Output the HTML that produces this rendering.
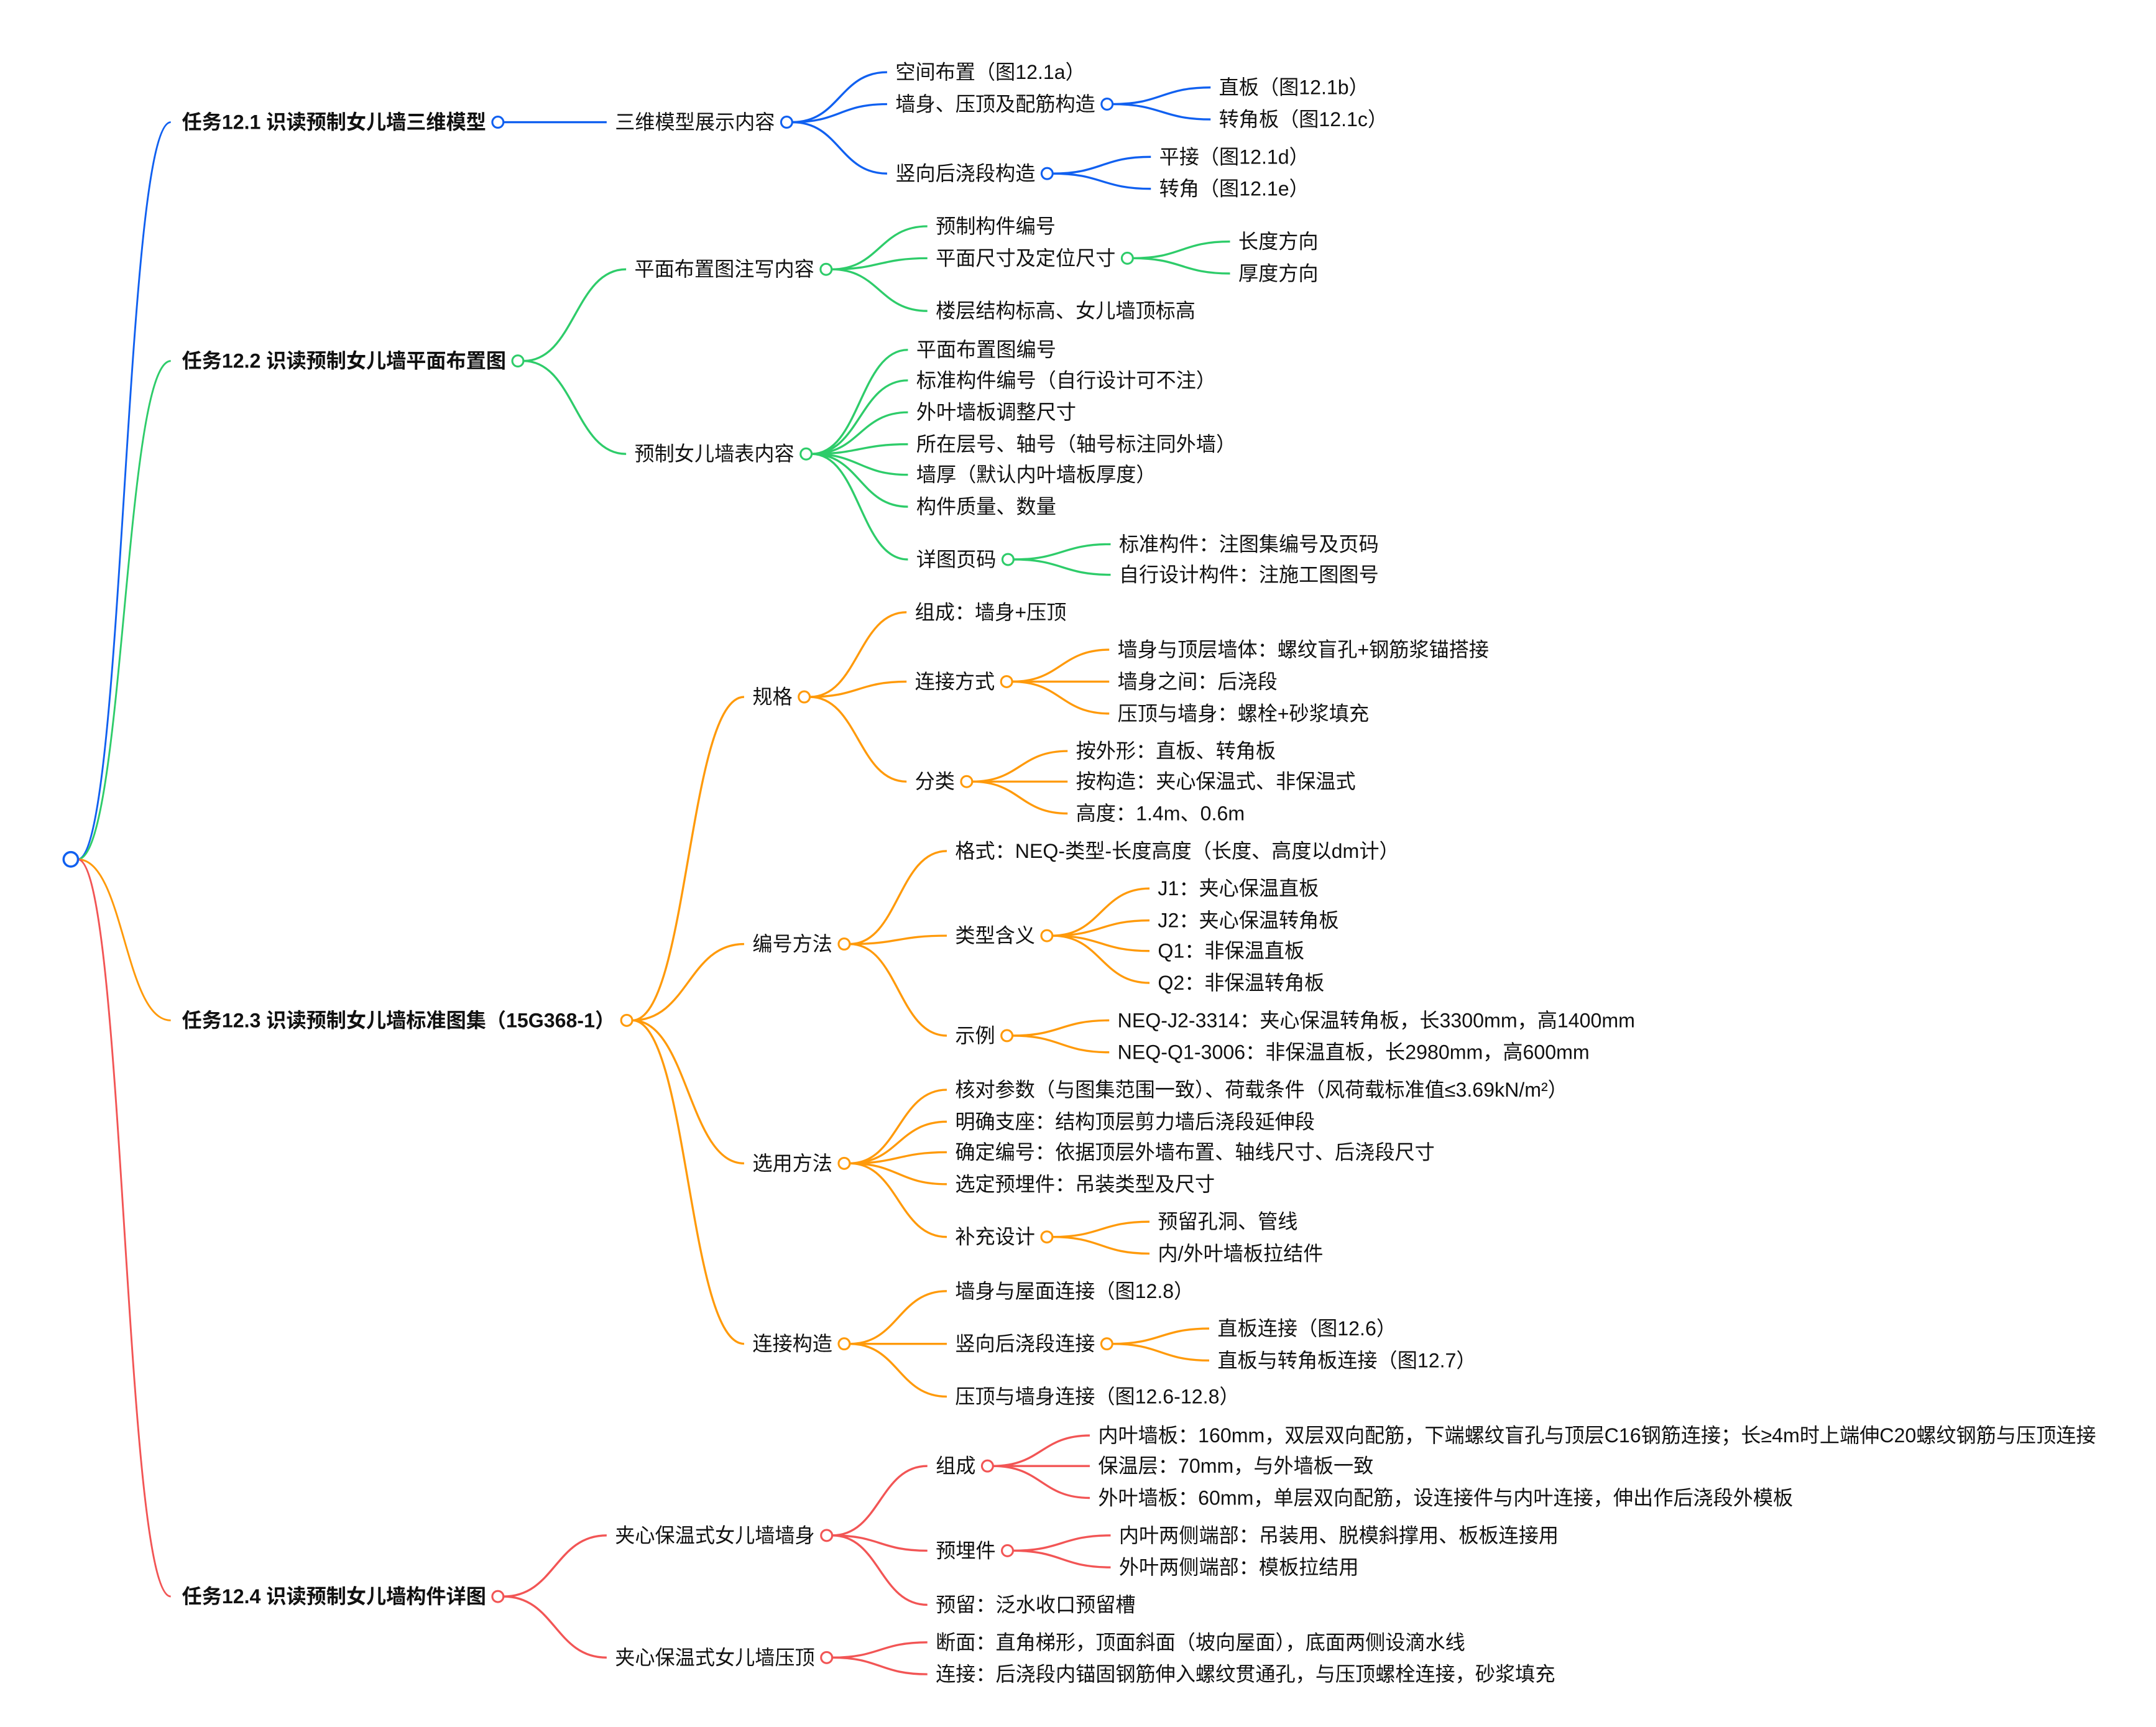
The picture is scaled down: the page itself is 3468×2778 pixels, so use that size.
<!DOCTYPE html>
<html><head><meta charset="utf-8">
<style>
html,body{margin:0;padding:0;background:#fff;}
svg{display:block;}
text{font-family:"Liberation Sans","Noto Sans CJK SC",sans-serif;font-size:14.4px;fill:#111;dominant-baseline:central;}
.b{font-weight:bold;}
</style></head>
<body>
<svg id="s" xmlns="http://www.w3.org/2000/svg" width="3468" height="2778" viewBox="0 0 1553 1244">
<g id="e" fill="none"></g><g id="t"></g><g id="c"></g>
</svg>
<script>
var B="#1060f0",G="#2ecc6a",O="#ff9a0a",R="#f25555";
function N(t,x,y,k){return {t:t,x:x,y:y,k:k||[]};}
var tree=[
[B,N("任务12.1 识读预制女儿墙三维模型",131,88,[
 N("三维模型展示内容",443,88,[
  N("空间布置（图12.1a）",645,52),
  N("墙身、压顶及配筋构造",645,75,[N("直板（图12.1b）",878,63),N("转角板（图12.1c）",878,86)]),
  N("竖向后浇段构造",645,125,[N("平接（图12.1d）",835,113),N("转角（图12.1e）",835,136)])
 ])])],
[G,N("任务12.2 识读预制女儿墙平面布置图",131,260,[
 N("平面布置图注写内容",457,194,[
  N("预制构件编号",674,163),
  N("平面尺寸及定位尺寸",674,186,[N("长度方向",892,174),N("厚度方向",892,197)]),
  N("楼层结构标高、女儿墙顶标高",674,224)]),
 N("预制女儿墙表内容",457,327,[
  N("平面布置图编号",660,252),
  N("标准构件编号（自行设计可不注）",660,274),
  N("外叶墙板调整尺寸",660,297),
  N("所在层号、轴号（轴号标注同外墙）",660,320),
  N("墙厚（默认内叶墙板厚度）",660,342),
  N("构件质量、数量",660,365),
  N("详图页码",660,403,[N("标准构件：注图集编号及页码",806,392),N("自行设计构件：注施工图图号",806,414)])])
 ])],
[O,N("任务12.3 识读预制女儿墙标准图集（15G368-1）",131,735,[
 N("规格",542,502,[
  N("组成：墙身+压顶",659,441),
  N("连接方式",659,491,[N("墙身与顶层墙体：螺纹盲孔+钢筋浆锚搭接",805,468),N("墙身之间：后浇段",805,491),N("压顶与墙身：螺栓+砂浆填充",805,514)]),
  N("分类",659,563,[N("按外形：直板、转角板",775,541),N("按构造：夹心保温式、非保温式",775,563),N("高度：1.4m、0.6m",775,586)])]),
 N("编号方法",542,680,[
  N("格式：NEQ-类型-长度高度（长度、高度以dm计）",688,613),
  N("类型含义",688,674,[N("J1：夹心保温直板",834,640),N("J2：夹心保温转角板",834,663),N("Q1：非保温直板",834,685),N("Q2：非保温转角板",834,708)]),
  N("示例",688,746,[N("NEQ-J2-3314：夹心保温转角板，长3300mm，高1400mm",805,735),N("NEQ-Q1-3006：非保温直板，长2980mm，高600mm",805,758)])]),
 N("选用方法",542,838,[
  N("核对参数（与图集范围一致）、荷载条件（风荷载标准值≤3.69kN/m²）",688,785),
  N("明确支座：结构顶层剪力墙后浇段延伸段",688,808),
  N("确定编号：依据顶层外墙布置、轴线尺寸、后浇段尺寸",688,830),
  N("选定预埋件：吊装类型及尺寸",688,853),
  N("补充设计",688,891,[N("预留孔洞、管线",834,880),N("内/外叶墙板拉结件",834,903)])]),
 N("连接构造",542,968,[
  N("墙身与屋面连接（图12.8）",688,930),
  N("竖向后浇段连接",688,968,[N("直板连接（图12.6）",877,957),N("直板与转角板连接（图12.7）",877,980)]),
  N("压顶与墙身连接（图12.6-12.8）",688,1006)])
 ])],
[R,N("任务12.4 识读预制女儿墙构件详图",131,1150,[
 N("夹心保温式女儿墙墙身",443,1106,[
  N("组成",674,1056,[N("内叶墙板：160mm，双层双向配筋，下端螺纹盲孔与顶层C16钢筋连接；长≥4m时上端伸C20螺纹钢筋与压顶连接",791,1034),N("保温层：70mm，与外墙板一致",791,1056),N("外叶墙板：60mm，单层双向配筋，设连接件与内叶连接，伸出作后浇段外模板",791,1079)]),
  N("预埋件",674,1117,[N("内叶两侧端部：吊装用、脱模斜撑用、板板连接用",806,1106),N("外叶两侧端部：模板拉结用",806,1129)]),
  N("预留：泛水收口预留槽",674,1156)]),
 N("夹心保温式女儿墙压顶",443,1194,[
  N("断面：直角梯形，顶面斜面（坡向屋面），底面两侧设滴水线",674,1183),
  N("连接：后浇段内锚固钢筋伸入螺纹贯通孔，与压顶螺栓连接，砂浆填充",674,1206)])
 ])]
];
var NS="http://www.w3.org/2000/svg";
var gE=document.getElementById("e"),gT=document.getElementById("t"),gC=document.getElementById("c");
function el(n,a,p){var e=document.createElementNS(NS,n);for(var k in a)e.setAttribute(k,a[k]);p.appendChild(e);return e;}
function edge(x1,y1,x2,y2,col,w){
  var mx=(x1+x2)/2;
  el("path",{d:"M"+x1+","+y1+" C"+mx+","+y1+" "+mx+","+y2+" "+x2+","+y2,stroke:col,"stroke-width":w},gE);
}
function draw(n,col,lvl){
  var t=el("text",{x:n.x,y:n.y},gT);t.textContent=n.t;
  if(lvl==1)t.setAttribute("class","b");
  if(n.k.length){
    var w=t.getComputedTextLength();
    var cx=n.x+w+8.5;
    el("circle",{cx:cx,cy:n.y,r:4,fill:"#fff",stroke:col,"stroke-width":1.4},gC);
    n.k.forEach(function(c){
      edge(cx+4,n.y,c.x-6,c.y,col,1.5);
      draw(c,col,lvl+1);
    });
  }
}
tree.forEach(function(b){
  var col=b[0],n=b[1];
  edge(56,619,n.x-8,n.y,col,1.3);
  draw(n,col,1);
});
el("circle",{cx:51,cy:619,r:5.2,fill:"#fff",stroke:B,"stroke-width":1.6},gC);
</script>
</body></html>
